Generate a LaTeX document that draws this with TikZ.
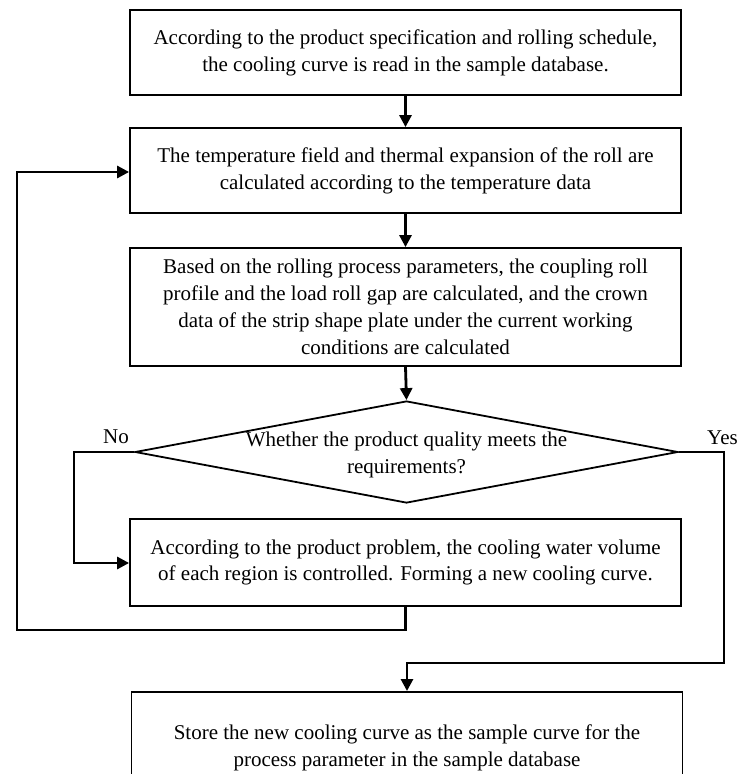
\documentclass[tikz,border=0pt]{standalone}
\usepackage{fontspec}
\setmainfont{Liberation Serif}
\usetikzlibrary{arrows.meta,shapes.geometric}
\begin{document}
\begin{tikzpicture}[x=1pt,y=-1pt,
  box/.style={draw,line width=1.8pt,minimum width=551pt,inner sep=0pt,align=center,
    font=\fontsize{21}{26.8}\selectfont},
  txt/.style={align=center,inner sep=0pt,font=\fontsize{21}{26.8}\selectfont},
  conn/.style={line width=2.8pt,-{Triangle[length=12pt,width=12pt]}}]
\useasboundingbox (0,0) rectangle (738,774);
\clip (0,0) rectangle (738,774);
\node[box,minimum height=85pt] (b1) at (405.5,52.5) {According to the product specification and rolling schedule,\\the cooling curve is read in the sample database.};
\node[box,minimum height=85pt] (b2) at (405.5,170.5) {The temperature field and thermal expansion of the roll are\\calculated according to the temperature data};
\node[box,minimum height=118pt] (b3) at (405.5,307) {Based on the rolling process parameters, the coupling roll\\profile and the load roll gap are calculated, and the crown\\data of the strip shape plate under the current working\\conditions are calculated};
\node[draw,diamond,line width=1.8pt,minimum width=543pt,minimum height=102pt,inner sep=0pt] (d) at (406.5,452) {};
\node[txt] (dt) at (406.5,455) {Whether the product quality meets the\\requirements?};
\node[box,minimum height=87pt] (b4) at (405.5,562.5) {According to the product problem, the cooling water volume\\of each region is controlled. Forming a new cooling curve.};
\node[box,minimum height=110pt,anchor=north] (b5) at (407,691) {};
\node[txt] (b5t) at (407,748) {Store the new cooling curve as the sample curve for the\\process parameter in the sample database};
\node[txt] (no) at (116,437) {No};
\node[txt,anchor=west] (yes) at (707,438) {Yes};
\coordinate (c1) at (74,452);
\coordinate (c2) at (74,563);
\coordinate (c3) at (405.5,630);
\coordinate (c4) at (17,630);
\coordinate (c5) at (17,172);
\coordinate (c6) at (724,452);
\coordinate (c7) at (724,663);
\coordinate (c8) at (407,663);
\draw[conn] (b1.south) -- (b2.north);
\draw[conn] (b2.south) -- (b3.north);
\draw[conn] (b3.south) -- (d.north);
\draw[conn] (d.west) -- (c1) -- (c2) -- (b4.west |- c2);
\draw[conn] (b4.south) -- (c3) -- (c4) -- (c5) -- (b2.west |- c5);
\draw[conn] (d.east) -- (c6) -- (c7) -- (c8) -- (b5.north);
\end{tikzpicture}
\end{document}
